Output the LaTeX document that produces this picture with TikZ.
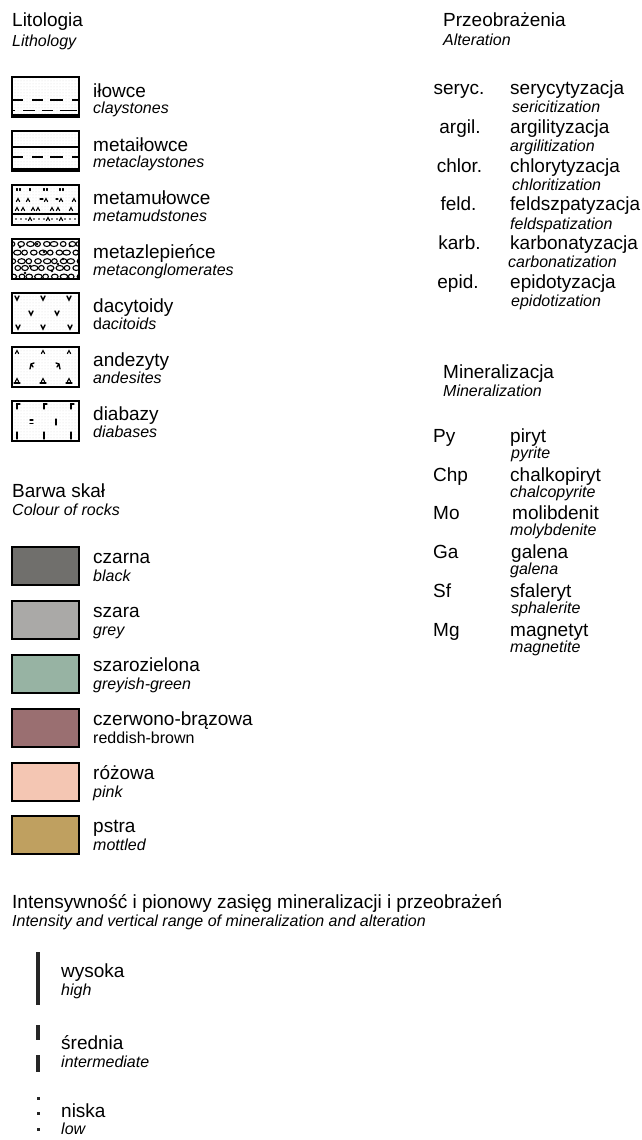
\documentclass[tikz,border=0pt]{standalone}
\usepackage{fontspec}
\setmainfont{Liberation Sans}
\usetikzlibrary{patterns}
\definecolor{cblack}{RGB}{112,111,108}
\definecolor{cgrey}{RGB}{170,169,167}
\definecolor{cgreen}{RGB}{151,179,163}
\definecolor{cred}{RGB}{154,111,113}
\definecolor{cpink}{RGB}{244,198,179}
\definecolor{cmot}{RGB}{191,160,96}
\tikzset{
  lab/.style={anchor=base west, font=\fontsize{19}{22}\selectfont, inner sep=0pt},
  labc/.style={anchor=base, font=\fontsize{19}{22}\selectfont, inner sep=0pt},
  sub/.style={anchor=base west, font=\fontsize{16}{19}\selectfont\itshape, inner sep=0pt},
  subu/.style={anchor=base west, font=\fontsize{16}{19}\selectfont, inner sep=0pt},
  litbox/.style={line width=2.4pt, pattern=dots, pattern color=black!15},
  colbox/.style={line width=2.4pt},
  sym/.style={line width=1.1pt, line cap=round},
  bar/.style={fill=black!85, draw=none}
}
\newcommand\chevm[2]{\draw[sym] (#1-1.6,#2+1.6)--(#1,#2-1.4)--(#1+1.6,#2+1.6);}
\newcommand\vmark[2]{\draw[sym,line width=1.4pt] (#1-2,#2-2)--(#1,#2+2)--(#1+2,#2-2);}
\newcommand\gamm[2]{\draw[sym,line width=1.3pt] (#1,#2+5)--(#1,#2)--(#1+3,#2);}
\begin{document}
\begin{tikzpicture}[x=1pt,y=-1pt]
\useasboundingbox (0,0) rectangle (641,1140);
% ---------- Litologia ----------
\node[lab] (litT) at (12,26.7) {Litologia};
\node[sub] (litE) at (12,46.5) {Lithology};
% box 1 ilowce
\draw[litbox] (12,77) rectangle (79,117);
\draw[line width=3.5pt] (11,116) -- (80,116);
\draw[line width=1.6pt] (13,100)--(23,100) (32,100)--(43,100) (50,100)--(63,100) (72,100)--(78,100);
\draw[line width=1.6pt] (13,110.5)--(15,110.5) (23,110.5)--(35,110.5) (42,110.5)--(53,110.5) (60,110.5)--(77,110.5);
\node[lab] (l1) at (93,97.5) {iłowce};
\node[sub] (l1e) at (93,113.5) {claystones};
% box 2 metailowce
\draw[litbox] (12,131) rectangle (79,171);
\draw[line width=3.5pt] (11,170) -- (80,170);
\draw[line width=1.1pt] (13,147)--(78,147);
\draw[line width=1.6pt] (13,157)--(23,157) (32,157)--(43,157) (50,157)--(63,157) (72,157)--(78,157);
\node[lab] (l2) at (93,151) {metaiłowce};
\node[sub] (l2e) at (93,167) {metaclaystones};
% box 3 metamulowce
\draw[litbox] (12,185) rectangle (79,225);
\foreach \x in {17,20,30,44,47,60,63} {\draw[sym] (\x,188.5)--(\x,190.5);}
\foreach \x in {18,28,46,61,74} {\chevm{\x}{200}}
\draw[sym] (40,199)--(43,199) (56,199)--(58,199);
\foreach \x in {17,23,33,38,52,58,71} {\chevm{\x}{209}}
\draw[line width=1.1pt] (13,214)--(78,214);
\foreach \x in {16,21,26,34,39,44,52,57,65,70,75} {\fill (\x,219) circle (0.9);}
\foreach \x in {30,48,61} {\chevm{\x}{219}}
\node[lab] (l3) at (93,204.5) {metamułowce};
\node[sub] (l3e) at (93,221) {metamudstones};
% box 4 metazlepience
\draw[litbox] (12,239) rectangle (79,279);
\begin{scope}
\clip (13.2,240.2) rectangle (77.8,277.8);
\foreach \r in {0,...,4} {
  \foreach \c in {0,...,8} {
    \pgfmathsetmacro{\xx}{12+\c*8.4+mod(\r,2)*4.2+mod(\c*7+\r*3,5)*0.4}
    \pgfmathsetmacro{\yy}{244+\r*8+mod(\c*3+\r,3)*0.6}
    \pgfmathsetmacro{\rx}{2.8+mod(\c+\r*2,3)*0.5}
    \draw[line width=1.1pt] (\xx,\yy) ellipse ({\rx} and 2.5);
  }
}
\foreach \px/\py in {20/247,44/252,63/259,30/266,52/271,70/246,25/273,37/244,58/264} {\fill (\px,\py) circle (1.3);}
\end{scope}
\node[lab] (l4) at (93,258.5) {metazlepieńce};
\node[sub] (l4e) at (93,275) {metaconglomerates};
% box 5 dacytoidy
\draw[litbox] (12,293) rectangle (79,333);
\foreach \px/\py in {17/298,43/298,69/298,31/313,57/313,18/327,43/327,70/327} {\vmark{\px}{\py}}
\node[lab] (l5) at (93,312.5) {dacytoidy};
\node[subu] (l5e) at (93,329) {d\textit{acitoids}};
% box 6 andezyty
\draw[litbox] (12,347) rectangle (79,387);
\foreach \x in {17,43,69} {\chevm{\x}{352}\chevm{\x}{380}\draw[sym] (\x-3,383)--(\x+3,383);}
\draw[sym,line width=1.3pt] (30,369)--(31,364)--(34,363) (31,364)--(33,367);
\draw[sym,line width=1.3pt] (56,363)--(59,364)--(60,369) (59,364)--(57,367);
\node[lab] (l6) at (93,366.5) {andezyty};
\node[sub] (l6e) at (93,383) {andesites};
% box 7 diabazy
\draw[litbox] (12,401) rectangle (79,441);
\foreach \x in {17,44,71} {\gamm{\x}{404}\draw[sym,line width=1.3pt] (\x,432)--(\x,439);}
\draw[sym,line width=1.3pt] (30,420)--(33,420) (30,423.5)--(33,423.5);
\draw[sym,line width=1.3pt] (56,419)--(56,425);
\node[lab] (l7) at (93,420.5) {diabazy};
\node[sub] (l7e) at (93,437) {diabases};
% ---------- Barwa skal ----------
\node[lab] (barT) at (12,497) {Barwa skał};
\node[sub] (barE) at (12,515) {Colour of rocks};
\draw[colbox, fill=cblack] (12,547) rectangle (79,585);
\node[lab] (c1) at (93,563) {czarna};
\node[sub] (c1e) at (93,581.5) {black};
\draw[colbox, fill=cgrey] (12,601) rectangle (79,639);
\node[lab] (c2) at (93,617) {szara};
\node[sub] (c2e) at (93,635.5) {grey};
\draw[colbox, fill=cgreen] (12,655) rectangle (79,693);
\node[lab] (c3) at (93,671) {szarozielona};
\node[sub] (c3e) at (93,689.5) {greyish-green};
\draw[colbox, fill=cred] (12,709) rectangle (79,747);
\node[lab] (c4) at (93,725) {czerwono-brązowa};
\node[subu] (c4e) at (93,743.5) {reddish-brown};
\draw[colbox, fill=cpink] (12,763) rectangle (79,801);
\node[lab] (c5) at (93,779) {różowa};
\node[sub] (c5e) at (93,797.5) {pink};
\draw[colbox, fill=cmot] (12,816) rectangle (79,854);
\node[lab] (c6) at (93,832) {pstra};
\node[sub] (c6e) at (93,850.5) {mottled};
% ---------- Przeobrazenia ----------
\node[lab] (altT) at (443,26.7) {Przeobrażenia};
\node[sub] (altE) at (443,46) {Alteration};
\node[labc] (a1) at (459,94) {seryc.};
\node[lab] (a1n) at (510,94) {serycytyzacja};
\node[sub] (a1e) at (512,112.5) {sericitization};
\node[labc] (a2) at (460,133) {argil.};
\node[lab] (a2n) at (510,133) {argilityzacja};
\node[sub] (a2e) at (510,151.5) {argilitization};
\node[labc] (a3) at (459.5,172) {chlor.};
\node[lab] (a3n) at (510,172) {chlorytyzacja};
\node[sub] (a3e) at (512,190.5) {chloritization};
\node[labc] (a4) at (458.5,210.5) {feld.};
\node[lab] (a4n) at (510,210.5) {feldszpatyzacja};
\node[sub] (a4e) at (510,229) {feldspatization};
\node[labc] (a5) at (459.5,249) {karb.};
\node[lab] (a5n) at (510,249) {karbonatyzacja};
\node[sub] (a5e) at (508,267.5) {carbonatization};
\node[labc] (a6) at (458,288) {epid.};
\node[lab] (a6n) at (510,288) {epidotyzacja};
\node[sub] (a6e) at (511,306.5) {epidotization};
% ---------- Mineralizacja ----------
\node[lab] (minT) at (443,378.5) {Mineralizacja};
\node[sub] (minE) at (443,396) {Mineralization};
\node[lab] (m1) at (433,442) {Py};
\node[lab] (m1n) at (510,442) {piryt};
\node[sub] (m1e) at (511,458) {pyrite};
\node[lab] (m2) at (433,481) {Chp};
\node[lab] (m2n) at (510,481) {chalkopiryt};
\node[sub] (m2e) at (510,497) {chalcopyrite};
\node[lab] (m3) at (433,519.5) {Mo};
\node[lab] (m3n) at (512,519.5) {molibdenit};
\node[sub] (m3e) at (510,535.5) {molybdenite};
\node[lab] (m4) at (433,558) {Ga};
\node[lab] (m4n) at (511,558) {galena};
\node[sub] (m4e) at (510,574) {galena};
\node[lab] (m5) at (433,597) {Sf};
\node[lab] (m5n) at (510,597) {sfaleryt};
\node[sub] (m5e) at (511,613) {sphalerite};
\node[lab] (m6) at (433,636) {Mg};
\node[lab] (m6n) at (510,636) {magnetyt};
\node[sub] (m6e) at (510,652) {magnetite};
% ---------- Intensity ----------
\node[lab] (intT) at (12,908) {Intensywność i pionowy zasięg mineralizacji i przeobrażeń};
\node[sub] (intE) at (12,926) {Intensity and vertical range of mineralization and alteration};
\fill[bar] (36,952) rectangle (39.5,1005);
\node[lab] (i1) at (61,977) {wysoka};
\node[sub] (i1e) at (61,995.5) {high};
\fill[bar] (35.5,1025) rectangle (39.5,1040);
\fill[bar] (35.5,1055) rectangle (39.5,1072);
\node[lab] (i2) at (61,1049) {średnia};
\node[sub] (i2e) at (61,1067.5) {intermediate};
\fill[bar] (37.3,1096.5) rectangle (40.2,1099.5);
\fill[bar] (37.3,1111.8) rectangle (40.2,1114.8);
\fill[bar] (37.3,1128.3) rectangle (40.2,1131.3);
\node[lab] (i3) at (61,1117) {niska};
\node[sub] (i3e) at (61,1134.5) {low};
\end{tikzpicture}
\end{document}
